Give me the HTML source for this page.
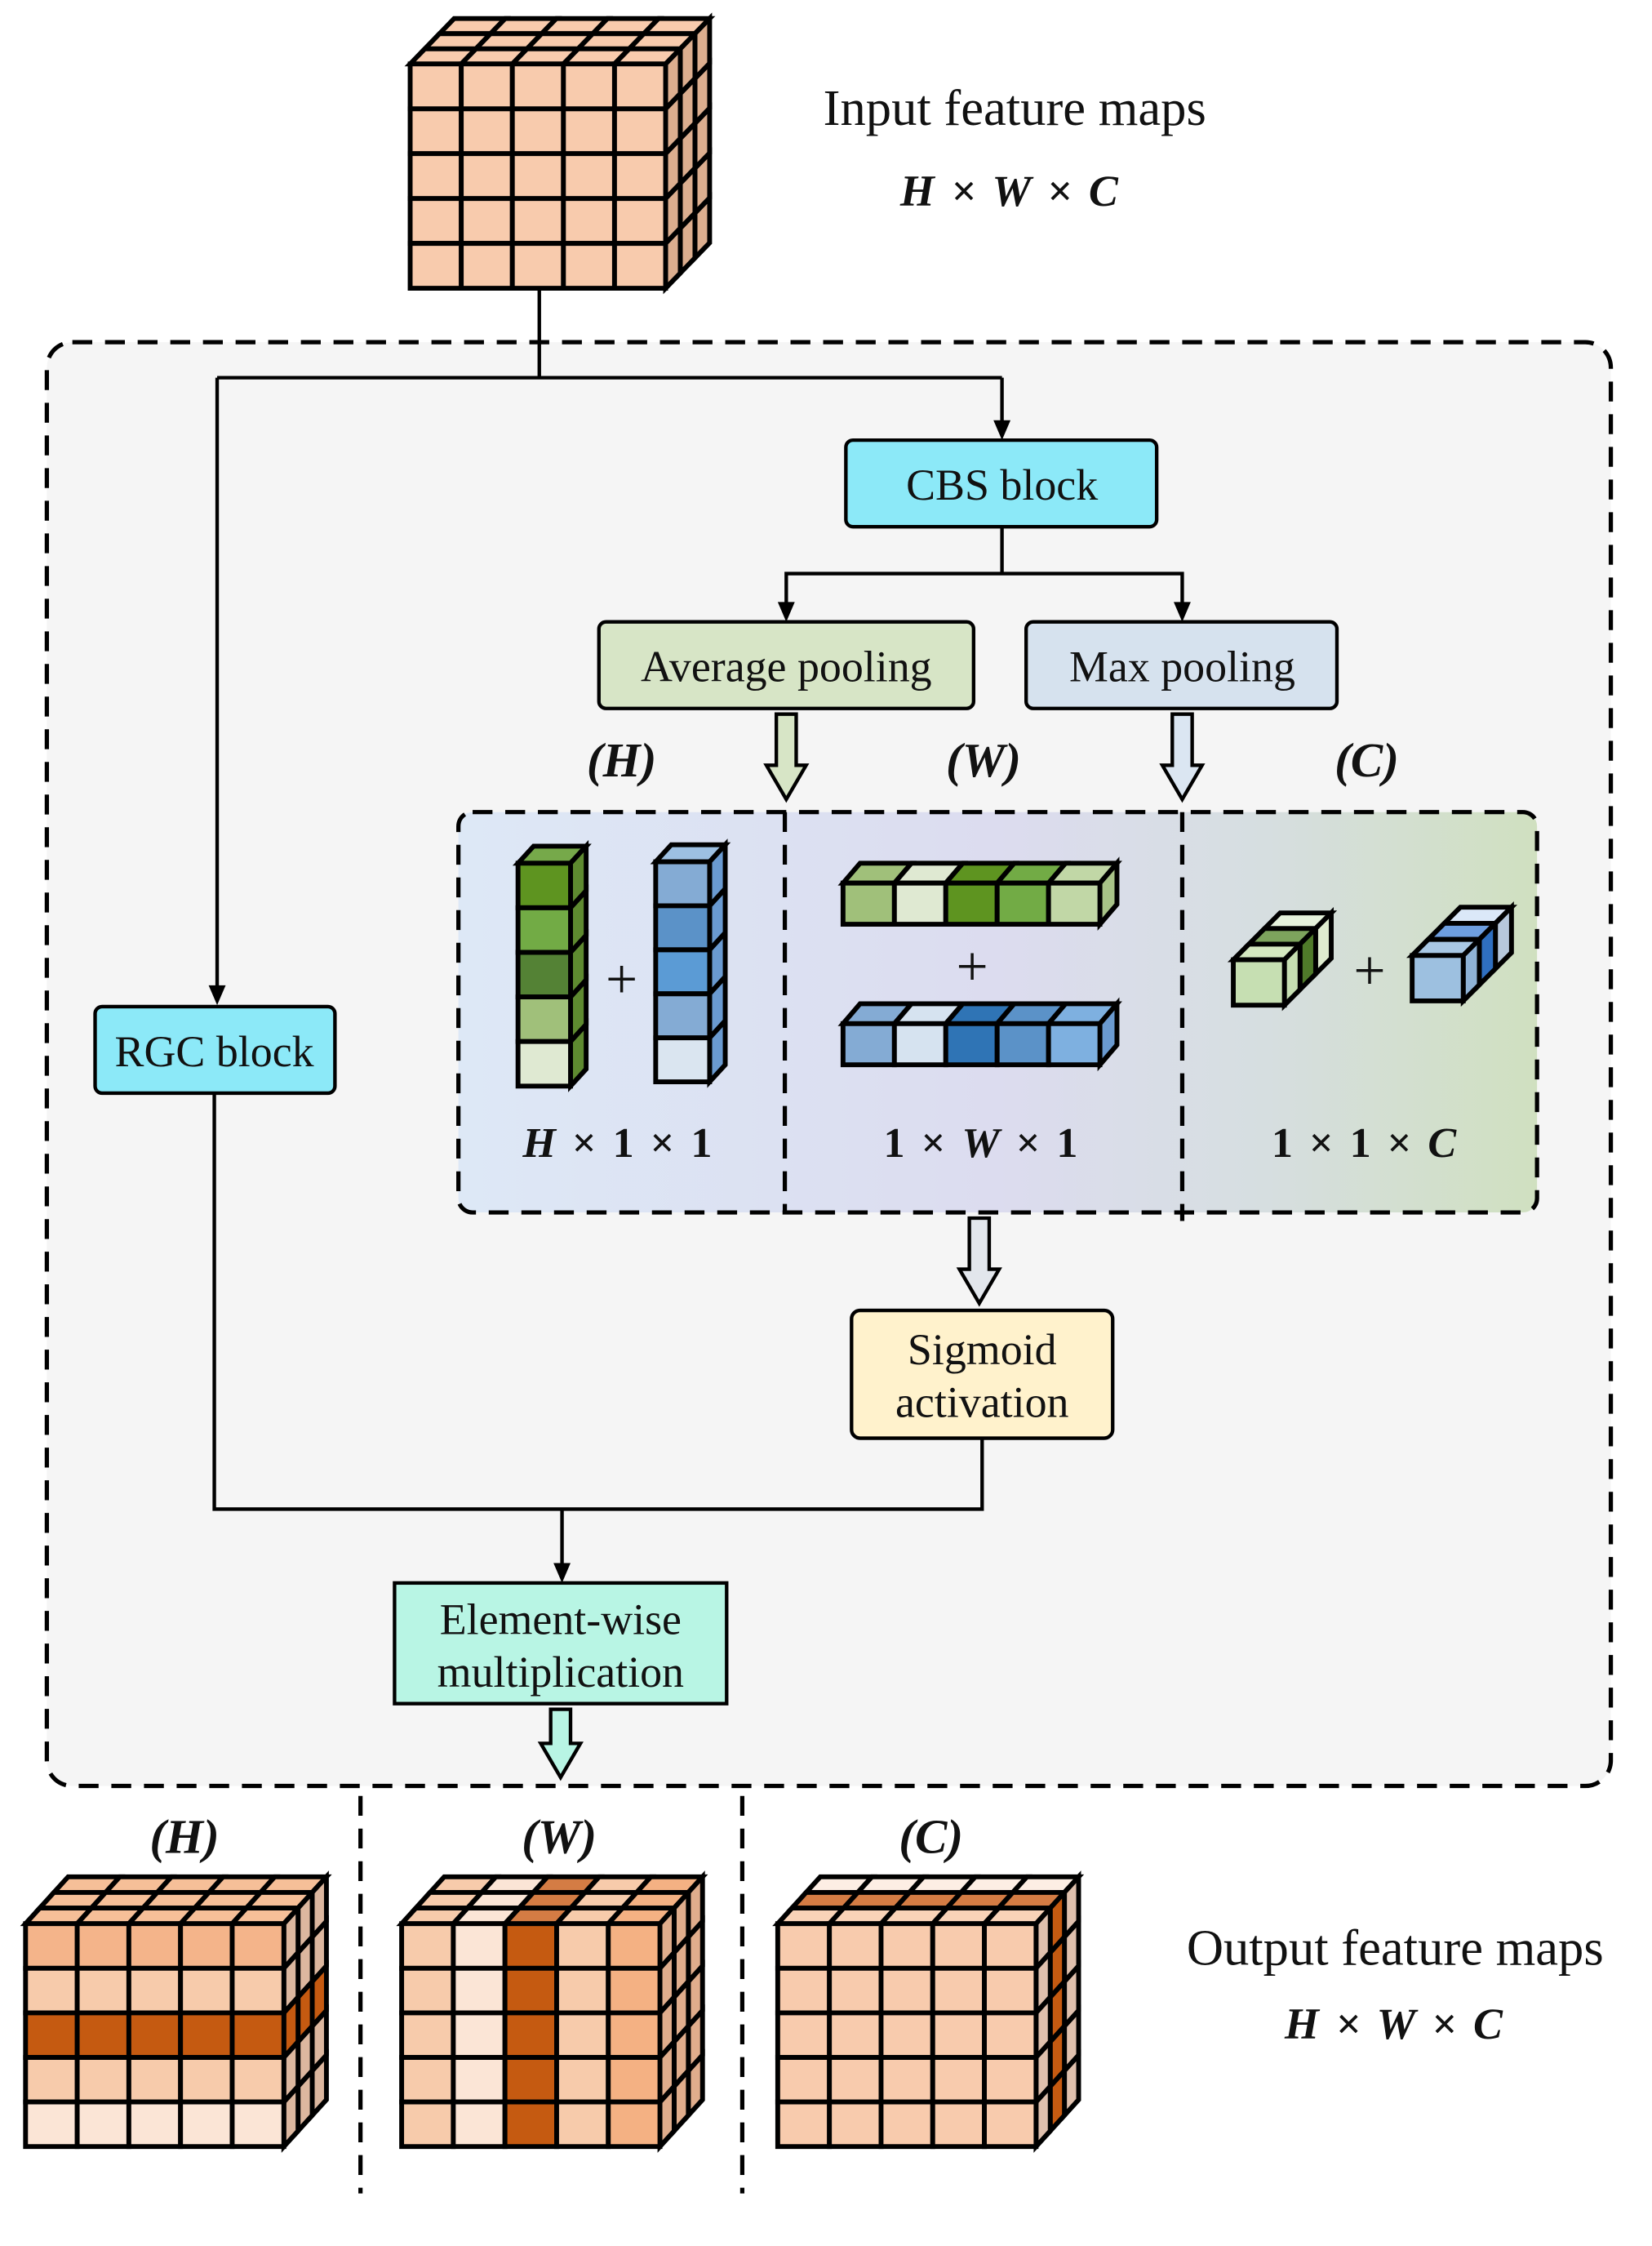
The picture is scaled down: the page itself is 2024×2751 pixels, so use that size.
<!DOCTYPE html>
<html><head><meta charset="utf-8"><style>
html,body{margin:0;padding:0;background:#fff}
svg{display:block}
.t{font-family:"Liberation Serif",serif;fill:#111}
.bi{font-family:"Liberation Serif",serif;font-weight:bold;fill:#111}
.i{font-style:italic}
.u{font-style:normal;font-weight:normal}
</style></head><body>
<svg id="s" width="2024" height="2751" viewBox="0 0 1164 1582" xmlns="http://www.w3.org/2000/svg">
<defs>
<linearGradient id="g1" x1="0" x2="1" y1="0" y2="0">
<stop offset="0" stop-color="#dde8f6"/><stop offset="0.5" stop-color="#dcdcef"/><stop offset="0.75" stop-color="#d6dee0"/><stop offset="1" stop-color="#d0e0c0"/>
</linearGradient>
</defs>
<rect x="33" y="241" width="1102" height="1017" rx="18" fill="#f5f5f5" stroke="#000" stroke-width="3" stroke-dasharray="14,9"/>
<g stroke="#000" stroke-width="2.5" fill="none">
<path d="M380,203 V266"/>
<path d="M153,266 H706"/>
<path d="M153,266 V698"/>
<path d="M706,266 V298"/>
<path d="M706,371 V404 H554 V426 M706,404 H833 V426"/>
<path d="M692,1013 V1063 H151 V770"/>
<path d="M396,1063 V1103"/>
</g>
<g fill="#000">
<path d="M147,694 L159,694 L153,708 z"/>
<path d="M700,296 L712,296 L706,310 z"/>
<path d="M548,424 L560,424 L554,438 z"/>
<path d="M827,424 L839,424 L833,438 z"/>
<path d="M390,1101 L402,1101 L396,1115 z"/>
</g>
<rect x="596" y="310" width="219" height="61" rx="5" fill="#8ce9f8" stroke="#000" stroke-width="2.5"/>
<text x="706" y="352" class="t" font-size="31" text-anchor="middle">CBS block</text>
<rect x="422" y="438" width="264" height="61" rx="5" fill="#d7e5c6" stroke="#000" stroke-width="2.5"/>
<text x="554" y="480" class="t" font-size="31" text-anchor="middle">Average pooling</text>
<rect x="723" y="438" width="219" height="61" rx="5" fill="#d6e2ee" stroke="#000" stroke-width="2.5"/>
<text x="833" y="480" class="t" font-size="31" text-anchor="middle">Max pooling</text>
<rect x="67" y="709" width="169" height="61" rx="5" fill="#8ce9f8" stroke="#000" stroke-width="2.5"/>
<text x="151" y="751" class="t" font-size="31" text-anchor="middle">RGC block</text>
<rect x="600" y="923" width="184" height="90" rx="6" fill="#fff2cc" stroke="#000" stroke-width="2.5"/>
<text x="692" y="961" class="t" font-size="31" text-anchor="middle">Sigmoid</text>
<text x="692" y="998" class="t" font-size="31" text-anchor="middle">activation</text>
<rect x="278" y="1115" width="234" height="85" fill="#b8f5e4" stroke="#000" stroke-width="2.5"/>
<text x="395" y="1151" class="t" font-size="31" text-anchor="middle">Element-wise</text>
<text x="395" y="1188" class="t" font-size="31" text-anchor="middle">multiplication</text>
<rect x="323" y="572" width="760" height="282" rx="10" fill="url(#g1)" stroke="#000" stroke-width="3" stroke-dasharray="14,9"/>
<g stroke="#000" stroke-width="3" stroke-dasharray="14,9"><path d="M553,572 V854"/><path d="M833,572 V860"/></g>
<text x="438" y="547" class="bi i" font-size="34" text-anchor="middle">(H)</text>
<text x="693" y="547" class="bi i" font-size="34" text-anchor="middle">(W)</text>
<text x="963" y="547" class="bi i" font-size="34" text-anchor="middle">(C)</text>
<text x="436" y="815" class="bi" font-size="30" text-anchor="middle" letter-spacing="2"><tspan class="i">H</tspan> × 1 × 1</text>
<text x="692" y="815" class="bi" font-size="30" text-anchor="middle" letter-spacing="2">1 × <tspan class="i">W</tspan> × 1</text>
<text x="962" y="815" class="bi" font-size="30" text-anchor="middle" letter-spacing="2">1 × 1 × <tspan class="i">C</tspan></text>
<text x="438" y="703" class="t" font-size="40" text-anchor="middle">+</text>
<text x="685" y="694" class="t" font-size="40" text-anchor="middle">+</text>
<text x="965" y="697" class="t" font-size="40" text-anchor="middle">+</text>
<text x="715" y="88" class="t" font-size="36" text-anchor="middle">Input feature maps</text>
<text x="712" y="145" class="bi i" font-size="31" text-anchor="middle" letter-spacing="2">H × W × C</text>
<text x="983" y="1384" class="t" font-size="36" text-anchor="middle">Output feature maps</text>
<text x="983" y="1436" class="bi i" font-size="31" text-anchor="middle" letter-spacing="2">H × W × C</text>
<text x="130" y="1305" class="bi i" font-size="34" text-anchor="middle">(H)</text>
<text x="394" y="1305" class="bi i" font-size="34" text-anchor="middle">(W)</text>
<text x="656" y="1305" class="bi i" font-size="34" text-anchor="middle">(C)</text>
<g stroke="#000" stroke-width="3" stroke-dasharray="14,9"><path d="M254,1265 V1545"/><path d="M523,1265 V1545"/></g>
<g id="cubes"></g>
<g id="arrows"></g>
</svg>
<script>
var NS="http://www.w3.org/2000/svg",C=document.getElementById('cubes'),A=document.getElementById('arrows');
function poly(g,pts,fill,sw){var p=document.createElementNS(NS,'polygon');p.setAttribute('points',pts.map(function(a){return a[0].toFixed(2)+','+a[1].toFixed(2)}).join(' '));p.setAttribute('fill',fill);p.setAttribute('stroke','#000');p.setAttribute('stroke-width',sw||2.5);p.setAttribute('stroke-linejoin','miter');g.appendChild(p);}
function cube(x,y,w,h,cols,rows,L,dx,dy,fc,tc,sc,sw){
 var cw=w/cols,ch=h/rows,ox=dx/L,oy=dy/L;
 for(var k=L-1;k>=0;k--)for(var c=0;c<cols;c++){var x0=x+c*cw+k*ox,y0=y-k*oy;poly(C,[[x0,y0],[x0+cw,y0],[x0+cw+ox,y0-oy],[x0+ox,y0-oy]],tc(k,c),sw);}
 for(var k=L-1;k>=0;k--)for(var r=0;r<rows;r++){var x0=x+w+k*ox,y0=y+r*ch-k*oy;poly(C,[[x0,y0],[x0+ox,y0-oy],[x0+ox,y0+ch-oy],[x0,y0+ch]],sc(k,r),sw);}
 for(var r=0;r<rows;r++)for(var c=0;c<cols;c++){var x0=x+c*cw,y0=y+r*ch;poly(C,[[x0,y0],[x0+cw,y0],[x0+cw,y0+ch],[x0,y0+ch]],fc(r,c),sw);}
}
function K(v){return function(){return v};}
cube(289,45,180,158,5,5,3,31,32,K('#f8cbad'),K('#f8cbad'),K('#dcae8f'),3.4);
var hr=['#f4b48a','#f7cbab','#c55a11','#f7cbab','#fbe5d6'];
cube(18,1355,182,157,5,5,3,30,33,function(r){return hr[r]},K('#f6bf98'),function(k,r){return r==2?'#c55a11':'#dcb79f'},3.4);
var wc=['#f7cbab','#fbe5d6','#c55a11','#f7cbab','#f4b183'];
cube(283,1355,182,157,5,5,3,30,33,function(r,c){return wc[c]},function(k,c){return c==2?'#d47c44':wc[c]},K('#e0ad8c'),3.4);
cube(548,1355,182,157,5,5,3,30,33,K('#f8cbad'),function(k){return k==1?'#d47c44':(k==2?'#fdeee4':'#f9d3b8')},function(k){return k==1?'#c55a11':'#dfc0ad'},3.4);
var gc=['#5e9420','#72ab45','#548235','#a0c07a','#dfe9d2'];
cube(365,608,37,157,1,5,1,11,12,function(r){return gc[r]},K('#76a94a'),K('#5e8a30'),3.4);
var bc=['#84abd4','#5b92c8','#5b9bd5','#84abd4','#dae5f0'];
cube(462,607,38,155,1,5,1,11,12,function(r){return bc[r]},K('#9dc0e2'),K('#6a9ad0'),3.4);
var gr=['#a0c07a','#dfe9d2','#5e9420','#72ab45','#c1d7a6'];
cube(594,622,181,29,5,1,1,12,14,function(r,c){return gr[c]},function(k,c){return gr[c]},K('#a8c388'),3.4);
var br=['#84abd4','#d6e3f0','#2f74b5','#5b92c8','#7eb0e0'];
cube(594,721,181,29,5,1,1,12,14,function(r,c){return br[c]},function(k,c){return br[c]},K('#6a9ad0'),3.4);
cube(869,676,36,32,1,1,3,33,33,K('#c6dfb2'),function(k){return ['#d4e8c0','#7da35d','#e6f2dc'][k]},function(k){return ['#c6dfb2','#4f7a2a','#dfeccf'][k]},3.4);
cube(995,673,36,32,1,1,3,34,34,K('#9dc0e0'),function(k){return ['#a9c8e4','#6e9fe0','#dbe8f8'][k]},function(k){return ['#8fb3d6','#2f6fc0','#b7c8dc'][k]},3.4);
function harrow(cx,y1,y2,fill){var s=7,hh=14,hl=24;poly(A,[[cx-s,y1],[cx+s,y1],[cx+s,y2-hl],[cx+hh,y2-hl],[cx,y2],[cx-hh,y2-hl],[cx-s,y2-hl]],fill,2.5);}
harrow(554,503,563,'#d7e5c6');
harrow(833,503,563,'#dbe6f2');
harrow(690,858,918,'#e2e6ec');
harrow(395,1204,1252,'#b8f5e4');
</script>
</body></html>
